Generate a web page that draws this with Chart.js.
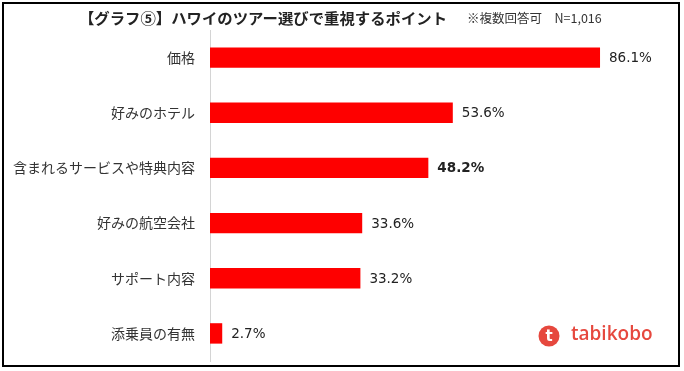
<!DOCTYPE html>
<html>
<head>
<meta charset="utf-8">
<script src="https://cdn.jsdelivr.net/npm/chart.js@4"></script>
<style>
  html, body { margin: 0; padding: 0; background: #fff; }
  #wrap { width: 684px; height: 371px; position: relative; }
</style>
</head>
<body>
<div id="wrap"><canvas id="barChart"></canvas></div>
<script>

// Data

const categories = ["価格", "好みのホテル", "含まれるサービスや特典内容", "好みの航空会社", "サポート内容", "添乗員の有無"];
const values = [86.1, 53.6, 48.2, 33.6, 33.2, 2.7];
const boldIndex = [2];

const titleText = "【グラフ⑤】ハワイのツアー選びで重視するポイント";
const noteText = "※複数回答可　N=1,016";


// Frame, title, value labels and logo

const extras = {
    id: "extras",
    afterDraw(chart) {
        const ctx = chart.ctx;
        ctx.save();

        // frame
        ctx.strokeStyle = "#000";
        ctx.lineWidth = 2;
        ctx.strokeRect(3, 3, 676, 363);

        // title, stretched to the reference width
        ctx.fillStyle = "#222";
        ctx.textBaseline = "middle";
        ctx.font = "bold 15px 'Noto Sans CJK JP'";
        let w = ctx.measureText(titleText).width;
        ctx.save();
        ctx.translate(79, 18);
        ctx.scale(368 / w, 1);
        ctx.fillText(titleText, 0, 0);
        ctx.restore();

        ctx.font = "12.5px 'Noto Sans CJK JP'";
        ctx.fillStyle = "#333";
        ctx.fillText(noteText, 467, 18);

        // value labels
        const meta = chart.getDatasetMeta(0);
        meta.data.forEach(function (bar, i) {
            ctx.font = (boldIndex.includes(i) ? "bold " : "") + "13.5px 'DejaVu Sans'";
            ctx.fillStyle = "#222";
            ctx.textAlign = "left";
            ctx.fillText(values[i].toFixed(1) + "%", bar.x + 9, bar.y + 1);
        });

        // logo
        ctx.fillStyle = "#e6483e";
        ctx.beginPath();
        ctx.arc(549, 336, 10.5, 0, Math.PI * 2);
        ctx.fill();
        ctx.fillStyle = "#fff";
        ctx.font = "bold 15px 'DejaVu Sans'";
        ctx.textAlign = "center";
        ctx.fillText("t", 549, 337);
        ctx.fillStyle = "#e6483e";
        ctx.textAlign = "left";
        ctx.font = "600 19px 'Open Sans'";
        ctx.fillText("tabikobo", 571, 335);

        ctx.restore();
    }
};


// Bar Chart

new Chart(document.getElementById("barChart"), {

    type: "bar",

    data: {

        labels: categories,

        datasets: [{

            data: values,

            backgroundColor: "#fe0000",

            barPercentage: 0.37,

            categoryPercentage: 1
        }]
    },

    options: {

        indexAxis: "y",

        responsive: true,

        maintainAspectRatio: false,

        animation: false,

        layout: {
            padding: { left: 0, right: 21, top: 30, bottom: 10 }
        },

        plugins: {
            legend: { display: false },
            tooltip: { enabled: false }
        },

        scales: {

            x: {
                display: false,
                min: 0,
                max: 100
            },

            y: {
                grid: { display: false, drawTicks: false },
                border: { color: "#d4d4d4", width: 1 },
                ticks: {
                    color: "#333",
                    padding: 15,
                    font: { size: 14, family: "'Noto Sans CJK JP'" }
                },
                afterFit(scale) {
                    scale.width = 210;
                    scale.paddingTop = 0;
                    scale.paddingBottom = 0;
                }
            }
        }
    },

    plugins: [extras]

});

</script>
</body>
</html>
